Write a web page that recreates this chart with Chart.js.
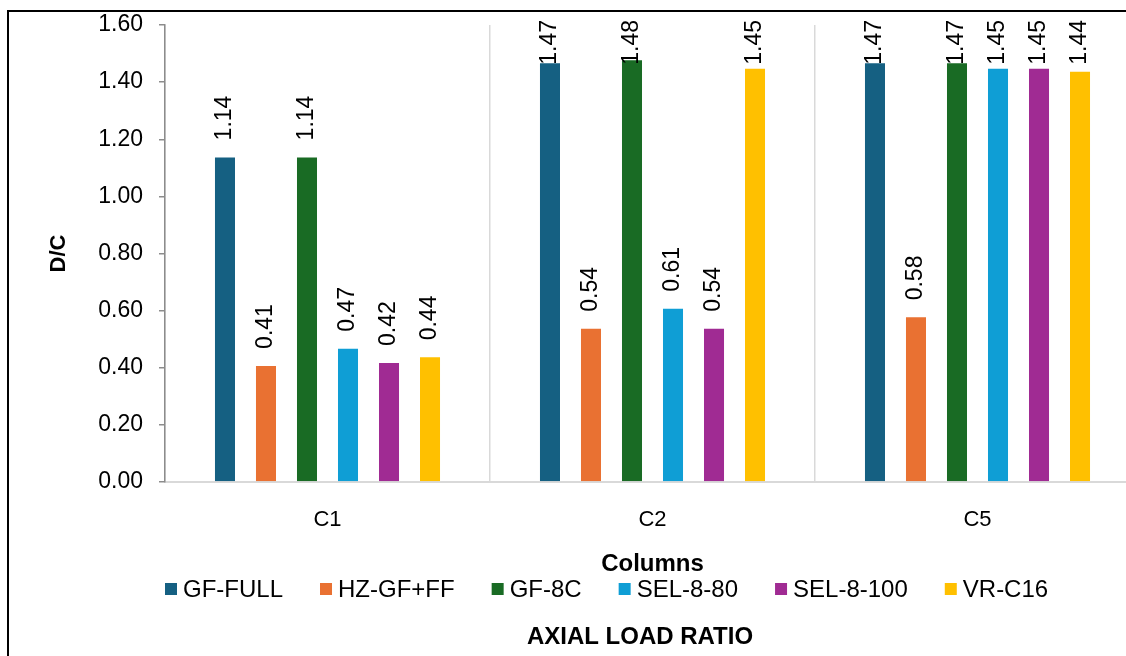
<!DOCTYPE html>
<html>
<head>
<meta charset="utf-8">
<title>D/C - Columns</title>
<script src="https://cdn.jsdelivr.net/npm/chart.js@4.4.1/dist/chart.umd.min.js"></script>
<style>
    html, body { margin: 0; padding: 0; background: #fff; overflow: hidden; }
    #wrap { position: relative; width: 1126px; height: 656px; overflow: hidden; }
    canvas { display: block; }
</style>
</head>
<body>
<div id="wrap">
    <canvas id="dcChart" width="1160" height="656"></canvas>
</div>
<script>
// === Données ===
const categories = ["C1", "C2", "C5"];
const seriesNames = ["GF-FULL", "HZ-GF+FF", "GF-8C", "SEL-8-80", "SEL-8-100", "VR-C16"];
const gfFull = [1.14, 1.47, 1.47];
const hzGfFf = [0.41, 0.54, 0.58];
const gf8c = [1.14, 1.48, 1.47];
const sel880 = [0.47, 0.61, 1.45];
const sel8100 = [0.42, 0.54, 1.45];
const vrC16 = [0.44, 1.45, 1.44];
const yMax = 1.6;
const yStep = 0.2;

const colors = ["#156082", "#E97132", "#196B24", "#0F9ED5", "#A02B93", "#FFC000"];
const FONT = "'Liberation Sans', Arial, sans-serif";

const allSeries = [gfFull, hzGfFf, gf8c, sel880, sel8100, vrC16];

// === Cadre noir autour du graphique ===
const framePlugin = {
    id: 'frame',
    beforeDraw(chart) {
        const ctx = chart.ctx;
        ctx.save();
        ctx.strokeStyle = '#000';
        ctx.lineWidth = 2;
        ctx.beginPath();
        ctx.moveTo(8, chart.height + 5);
        ctx.lineTo(8, 11);
        ctx.lineTo(chart.width + 5, 11);
        ctx.stroke();
        ctx.restore();
    }
};

// === Valeurs au-dessus des barres (texte vertical) ===
const valueLabels = {
    id: 'valueLabels',
    afterDatasetsDraw(chart) {
        const ctx = chart.ctx;
        ctx.save();
        ctx.font = "23px " + FONT;
        ctx.fillStyle = '#000';
        ctx.textAlign = 'left';
        ctx.textBaseline = 'middle';
        chart.data.datasets.forEach((ds, i) => {
            chart.getDatasetMeta(i).data.forEach((bar, j) => {
                const txt = ds.data[j].toFixed(2);
                const w = ctx.measureText(txt).width;
                let start = bar.y - 16;
                if (start - w < 20) start = 20 + w;
                ctx.save();
                ctx.translate(bar.x, start);
                ctx.rotate(-Math.PI / 2);
                ctx.fillText(txt, 0, 0);
                ctx.restore();
            });
        });
        ctx.restore();
    }
};

// === Légende + titre du bas ===
const bottomLegend = {
    id: 'bottomLegend',
    afterDraw(chart) {
        const ctx = chart.ctx;
        const area = chart.chartArea;
        ctx.save();
        ctx.font = "24px " + FONT;
        ctx.textBaseline = 'middle';
        ctx.textAlign = 'left';
        const y = chart.height - 67;
        let x = area.left;
        chart.data.datasets.forEach(ds => {
            ctx.fillStyle = ds.backgroundColor;
            ctx.fillRect(x, y - 6, 12, 12);
            ctx.fillStyle = '#000';
            ctx.fillText(ds.label, x + 18, y + 1);
            x += 18 + ctx.measureText(ds.label).width + 37;
        });

        ctx.font = "bold 24px " + FONT;
        ctx.textAlign = 'center';
        ctx.fillText("AXIAL LOAD RATIO", 640, chart.height - 19);
        ctx.restore();
    }
};

new Chart(document.getElementById("dcChart"), {
    type: 'bar',
    data: {
        labels: categories,
        datasets: seriesNames.map((name, i) => ({
            label: name,
            data: allSeries[i],
            backgroundColor: colors[i],
            borderColor: 'rgba(255,255,255,0.45)',
            borderWidth: 1,
            categoryPercentage: 0.757,
            barPercentage: 0.537
        }))
    },
    options: {
        responsive: false,
        animation: false,
        devicePixelRatio: 1,
        layout: { padding: { top: 25, right: 20, left: 0, bottom: 77 } },
        plugins: {
            legend: { display: false },
            tooltip: { enabled: false }
        },
        scales: {
            x: {
                afterFit(scale) { scale.height = 97; },
                grid: {
                    color: '#d9d9d9',
                    lineWidth: 1.5,
                    drawTicks: false
                },
                border: { color: '#d9d9d9', width: 2 },
                ticks: {
                    color: '#000',
                    padding: 25,
                    font: { family: FONT, size: 22 }
                },
                title: {
                    display: true,
                    text: 'Columns',
                    color: '#000',
                    padding: { top: 0, bottom: 0 },
                    font: { family: FONT, size: 24, weight: 'bold' }
                }
            },
            y: {
                min: 0,
                max: yMax,
                afterFit(scale) {
                    scale.width = 165;
                    scale.paddingTop = 0;
                    scale.paddingBottom = 0;
                },
                grid: {
                    drawOnChartArea: false,
                    drawTicks: true,
                    tickLength: 6,
                    color: '#8c8c8c',
                    lineWidth: 1.5
                },
                border: { color: '#8c8c8c', width: 1.5 },
                ticks: {
                    stepSize: yStep,
                    color: '#000',
                    padding: 16,
                    font: { family: FONT, size: 23 },
                    callback: v => v.toFixed(2)
                },
                title: {
                    display: true,
                    text: 'D/C',
                    color: '#000',
                    padding: { top: 46, bottom: 0 },
                    font: { family: FONT, size: 22, weight: 'bold' }
                }
            }
        }
    },
    plugins: [framePlugin, valueLabels, bottomLegend]
});
</script>
</body>
</html>
